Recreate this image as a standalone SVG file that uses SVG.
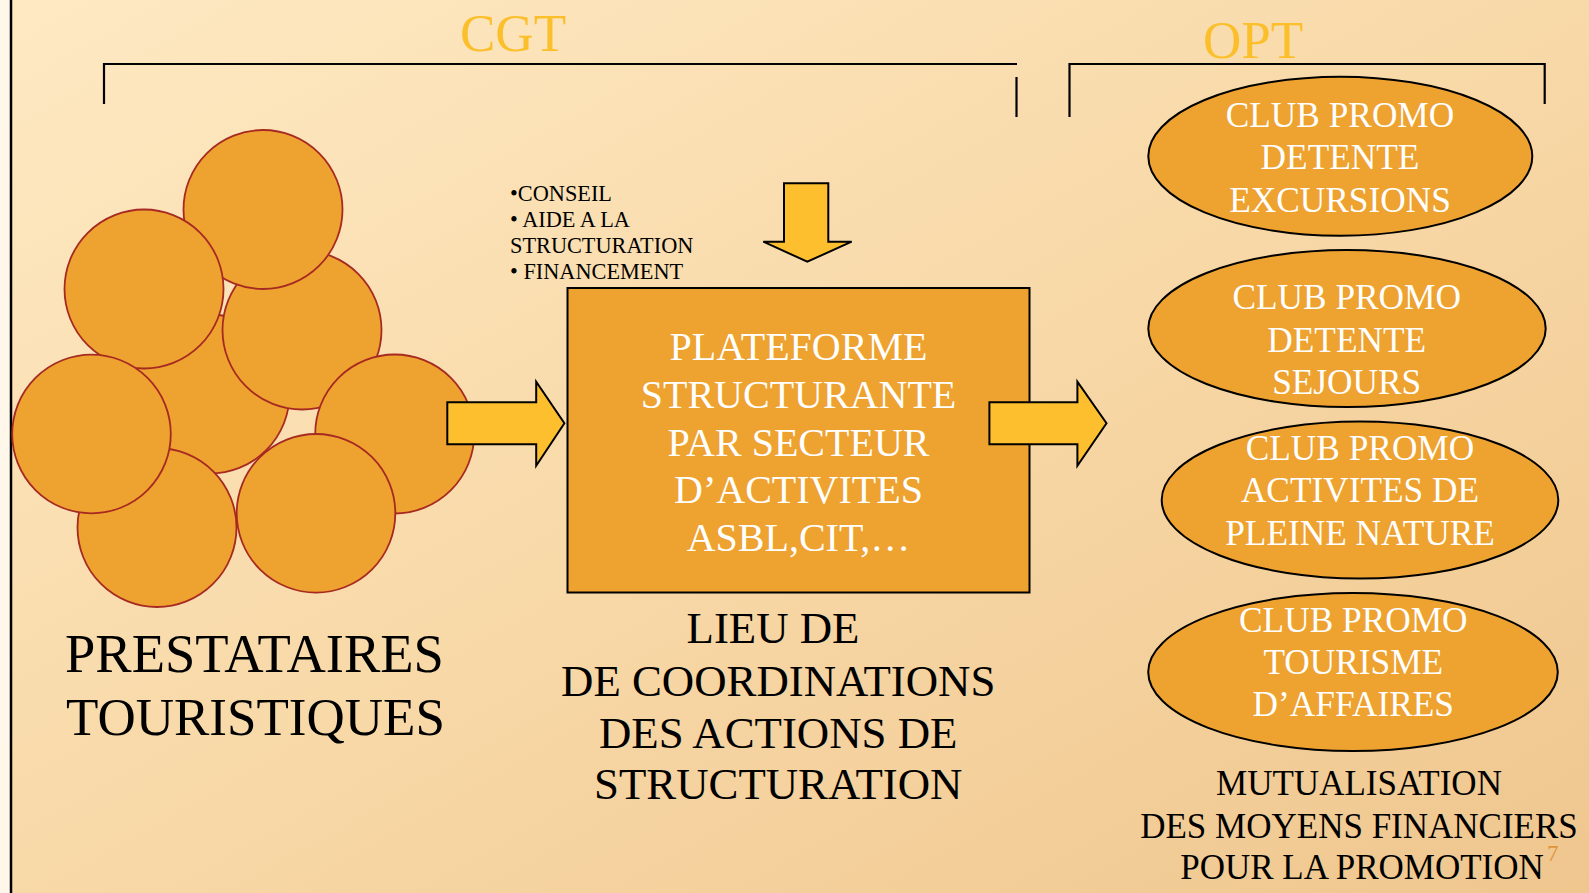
<svg xmlns="http://www.w3.org/2000/svg" width="1589" height="893" viewBox="0 0 1589 893">
  <defs>
    <linearGradient id="bg" x1="0" y1="0" x2="1" y2="1">
      <stop offset="0" stop-color="#fee9c3"/>
      <stop offset="0.5" stop-color="#f8d9a8"/>
      <stop offset="1" stop-color="#efc68e"/>
    </linearGradient>
    <style>
      .serif { font-family: "Liberation Serif", "Times New Roman", serif; }
      .circ { fill: #eea22f; stroke: #a62a22; stroke-width: 1.8; }
      .node { fill: #eea22f; stroke: #000; stroke-width: 2; }
      .arrow { fill: #fdbf2d; stroke: #000; stroke-width: 2; stroke-linejoin: miter; }
      .bracket { fill: none; stroke: #000; stroke-width: 2.2; }
      .white { fill: #ffffff; text-anchor: middle; }
      .black { fill: #000000; }
      .title { fill: #fbbf2c; font-size: 53px; text-anchor: middle; }
    </style>
  </defs>

  <rect x="0" y="0" width="1589" height="893" fill="url(#bg)"/>
  <rect x="0" y="0" width="10" height="893" fill="#fff8ea"/>
  <line x1="11" y1="0" x2="11" y2="893" stroke="#000" stroke-width="2.5"/>

  <g id="titles" class="serif">
    <text class="title" x="513" y="51">CGT</text>
    <text class="title" x="1253" y="58">OPT</text>
  </g>

  <g id="connectors">
    <path class="bracket" d="M104,104 V64 H1017"/>
    <line class="bracket" x1="1016.5" y1="77" x2="1016.5" y2="117"/>
    <path class="bracket" d="M1069.5,117 V64 H1544.7 V104"/>
  </g>

  <g id="prestataires">
    <circle class="circ" cx="210" cy="394" r="79.5"/>
    <circle class="circ" cx="302" cy="330" r="79.5"/>
    <circle class="circ" cx="263" cy="209.5" r="79.5"/>
    <circle class="circ" cx="144" cy="289" r="79.5"/>
    <circle class="circ" cx="394.7" cy="434" r="79.5"/>
    <circle class="circ" cx="157" cy="527.5" r="79.5"/>
    <circle class="circ" cx="91.5" cy="434" r="79.3"/>
    <circle class="circ" cx="316" cy="513.3" r="79.3"/>
    <text class="serif black" font-size="54.5" x="65" y="672">PRESTATAIRES</text>
    <text class="serif black" font-size="53" x="66" y="735">TOURISTIQUES</text>
  </g>

  <g id="arrow-left">
    <polygon class="arrow" points="447.3,402.3 536.2,402.3 536.2,381.7 564.4,423.3 536.2,465.7 536.2,444.3 447.3,444.3"/>
  </g>

  <g id="plateforme">
    <rect class="node" x="567.5" y="288" width="462" height="304.5"/>
    <g class="serif white" font-size="40">
      <text x="798.5" y="360">PLATEFORME</text>
      <text x="798.5" y="408">STRUCTURANTE</text>
      <text x="798.5" y="455.5">PAR SECTEUR</text>
      <text x="798.5" y="503">D’ACTIVITES</text>
      <text x="798.5" y="550.5">ASBL,CIT,…</text>
    </g>
  </g>

  <g id="arrow-right">
    <polygon class="arrow" points="989.4,402.3 1077.4,402.3 1077.4,381.7 1106.5,423.3 1077.4,465.7 1077.4,444.3 989.4,444.3"/>
  </g>

  <g id="arrow-down">
    <polygon class="arrow" points="784,183.3 828.3,183.3 828.3,241.7 851.7,241.7 807.3,261.7 763.3,241.7 784,241.7"/>
  </g>

  <g id="services" class="serif black" font-size="22.3">
    <text x="510" y="200.5">•CONSEIL</text>
    <text x="510" y="227">• AIDE A LA</text>
    <text x="510" y="253">STRUCTURATION</text>
    <text x="510" y="279">• FINANCEMENT</text>
  </g>

  <g id="coordination" class="serif black" font-size="44.8" text-anchor="middle">
    <text x="773" y="643.3">LIEU DE</text>
    <text x="778.2" y="695.7">DE COORDINATIONS</text>
    <text x="778.2" y="748.3">DES ACTIONS DE</text>
    <text x="778.2" y="799.3">STRUCTURATION</text>
  </g>

  <g id="club-excursions">
    <ellipse class="node" cx="1340.3" cy="156.2" rx="192" ry="79.5"/>
    <g class="serif white" font-size="35.3">
      <text x="1340" y="127.3">CLUB PROMO</text>
      <text x="1340" y="169.3">DETENTE</text>
      <text x="1340" y="211.7">EXCURSIONS</text>
    </g>
  </g>

  <g id="club-sejours">
    <ellipse class="node" cx="1347" cy="328.5" rx="198.7" ry="78.5"/>
    <g class="serif white" font-size="35.3">
      <text x="1346.7" y="309.3">CLUB PROMO</text>
      <text x="1346.7" y="351.7">DETENTE</text>
      <text x="1346.7" y="394">SEJOURS</text>
    </g>
  </g>

  <g id="club-nature">
    <ellipse class="node" cx="1360" cy="500" rx="198.3" ry="78.5"/>
    <g class="serif white" font-size="35.3">
      <text x="1360" y="460">CLUB PROMO</text>
      <text x="1360" y="502.3">ACTIVITES DE</text>
      <text x="1360" y="545">PLEINE NATURE</text>
    </g>
  </g>

  <g id="club-affaires">
    <ellipse class="node" cx="1353" cy="672" rx="204.8" ry="79"/>
    <g class="serif white" font-size="35.3">
      <text x="1353.3" y="631.7">CLUB PROMO</text>
      <text x="1353.3" y="674.3">TOURISME</text>
      <text x="1353.3" y="716">D’AFFAIRES</text>
    </g>
  </g>

  <g id="mutualisation" class="serif black" font-size="35" text-anchor="middle">
    <text x="1359" y="795">MUTUALISATION</text>
    <text x="1359" y="838.3">DES MOYENS FINANCIERS</text>
    <text x="1362" y="879.3">POUR LA PROMOTION</text>
  </g>

  <text id="page-number" class="serif" x="1547" y="861" font-size="23" fill="#e0953a">7</text>
</svg>
